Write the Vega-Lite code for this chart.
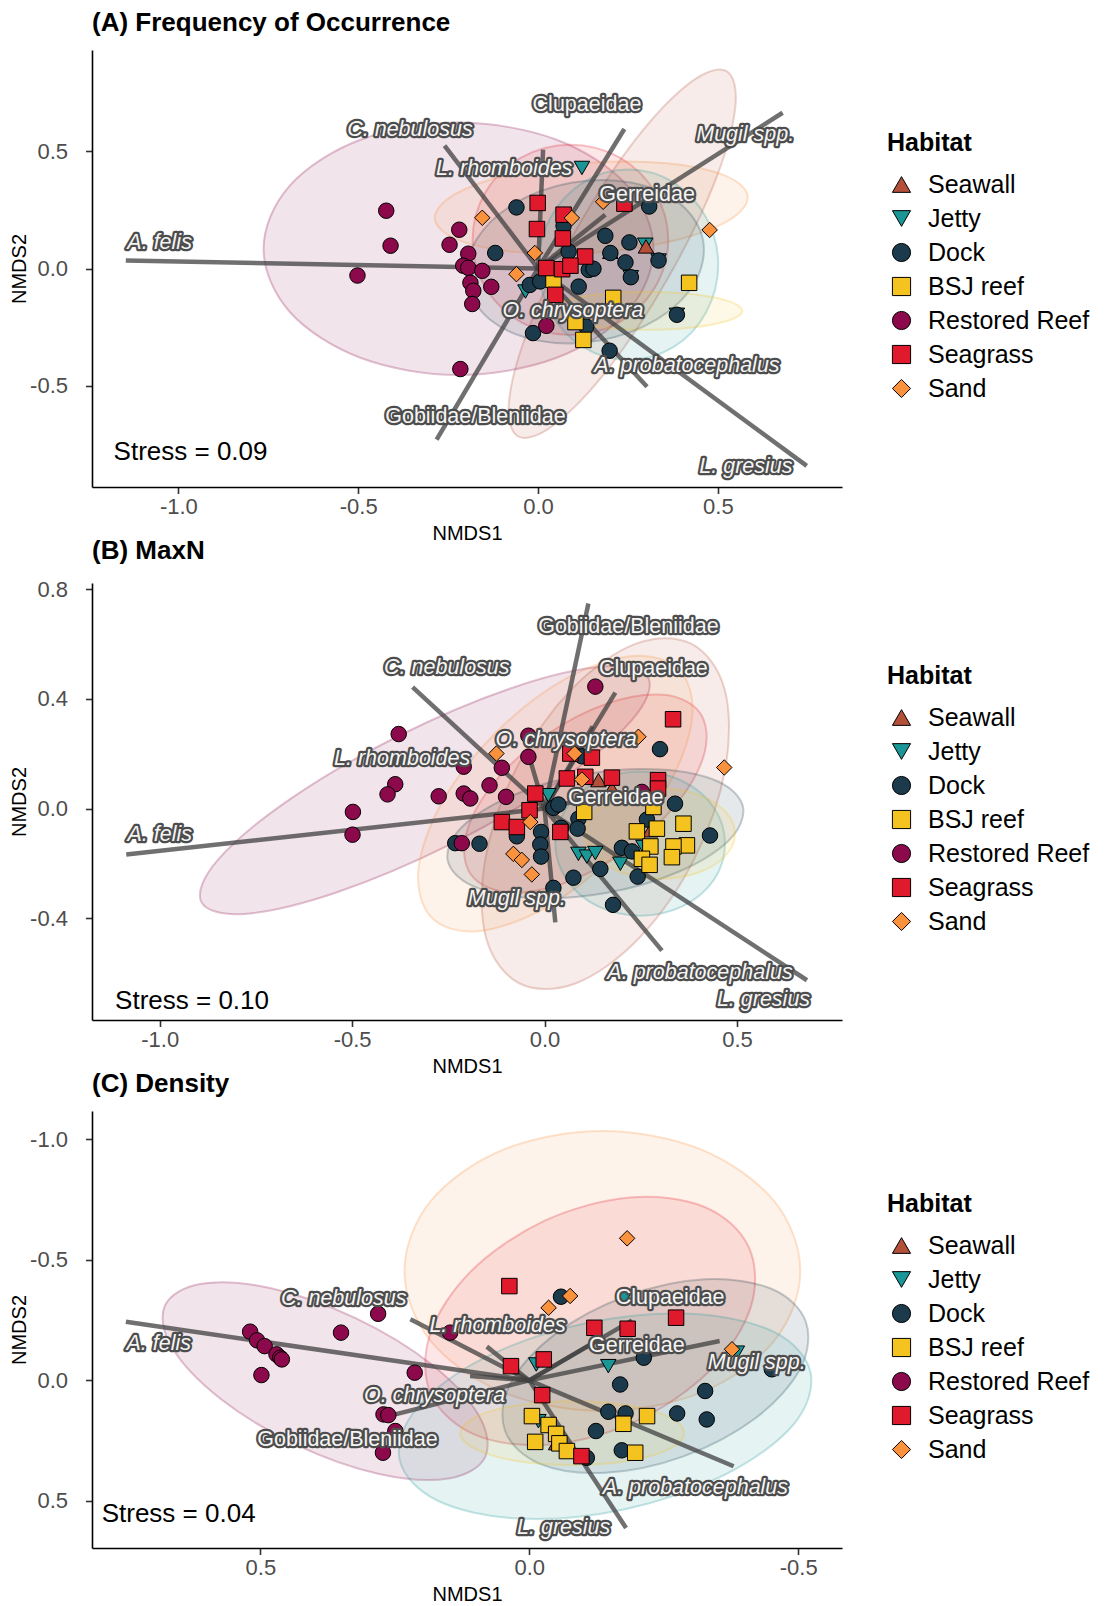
{
"$schema": "https://vega.github.io/schema/vega-lite/v6.json",
"background": "white",
"padding": {"top": 10, "left": 9, "right": 5, "bottom": 0},
"spacing": -6,
"config": {
 "view": {"stroke": null},
 "font": "Liberation Sans",
 "axis": {"grid": false, "domainColor": "black", "domainWidth": 1.6, "tickColor": "#333333", "tickWidth": 1.6, "tickSize": 6.5, "labelFontSize": 22, "labelColor": "#4D4D4D", "labelFont": "Liberation Sans", "titleFont": "Liberation Sans", "titleFontSize": 20, "titleFontWeight": "normal", "titleColor": "black"},
 "axisX": {"labelPadding": 3, "titlePadding": 6},
 "axisY": {"labelPadding": 18, "titlePadding": 0},
 "legend": {"titleFont": "Liberation Sans", "titleFontSize": 25, "titleFontWeight": "bold", "titleColor": "black", "labelFont": "Liberation Sans", "labelFontSize": 25, "labelColor": "black", "labelLimit": 400, "symbolSize": 330, "symbolStrokeColor": "black", "symbolStrokeWidth": 1, "rowPadding": 8, "titlePadding": 16, "labelOffset": 14, "symbolOffset": 2},
 "title": {"font": "Liberation Sans", "fontSize": 26, "fontWeight": "bold", "color": "black", "anchor": "start", "frame": "group", "offset": 14}
},
"datasets": {
"pts": [
{"panel":"A","habitat":"Jetty","x":0.122,"y":0.428},{"panel":"A","habitat":"Jetty","x":0.298,"y":0.101},{"panel":"A","habitat":"Jetty","x":0.335,"y":0.034},{"panel":"A","habitat":"Jetty","x":0.258,"y":-0.037},{"panel":"A","habitat":"Jetty","x":-0.035,"y":-0.098},{"panel":"A","habitat":"Jetty","x":0.386,"y":-0.197},
{"panel":"A","habitat":"Seawall","x":0.3,"y":0.094},{"panel":"A","habitat":"Seawall","x":0.201,"y":0.071},
{"panel":"A","habitat":"Dock","x":-0.06,"y":0.26},{"panel":"A","habitat":"Dock","x":0.309,"y":0.264},{"panel":"A","habitat":"Dock","x":0.071,"y":0.182},{"panel":"A","habitat":"Dock","x":0.187,"y":0.139},{"panel":"A","habitat":"Dock","x":0.254,"y":0.111},{"panel":"A","habitat":"Dock","x":-0.119,"y":0.066},{"panel":"A","habitat":"Dock","x":0.085,"y":0.072},{"panel":"A","habitat":"Dock","x":0.201,"y":0.066},{"panel":"A","habitat":"Dock","x":0.243,"y":0.026},{"panel":"A","habitat":"Dock","x":0.141,"y":-0.006},{"panel":"A","habitat":"Dock","x":0.154,"y":-0.001},{"panel":"A","habitat":"Dock","x":0.113,"y":-0.077},{"panel":"A","habitat":"Dock","x":-0.023,"y":-0.07},{"panel":"A","habitat":"Dock","x":0.006,"y":-0.055},{"panel":"A","habitat":"Dock","x":0.134,"y":-0.247},{"panel":"A","habitat":"Dock","x":0.199,"y":-0.35},{"panel":"A","habitat":"Dock","x":-0.014,"y":-0.275},{"panel":"A","habitat":"Dock","x":0.335,"y":0.034},{"panel":"A","habitat":"Dock","x":0.258,"y":-0.037},{"panel":"A","habitat":"Dock","x":0.386,"y":-0.197},
{"panel":"A","habitat":"BSJ reef","x":0.043,"y":-0.048},{"panel":"A","habitat":"BSJ reef","x":0.42,"y":-0.061},{"panel":"A","habitat":"BSJ reef","x":0.209,"y":-0.125},{"panel":"A","habitat":"BSJ reef","x":0.104,"y":-0.228},{"panel":"A","habitat":"BSJ reef","x":0.126,"y":-0.304},
{"panel":"A","habitat":"Seagrass","x":-0.001,"y":0.279},{"panel":"A","habitat":"Seagrass","x":0.071,"y":0.229},{"panel":"A","habitat":"Seagrass","x":-0.003,"y":0.168},{"panel":"A","habitat":"Seagrass","x":0.069,"y":0.128},{"panel":"A","habitat":"Seagrass","x":0.131,"y":0.051},{"panel":"A","habitat":"Seagrass","x":0.023,"y":0.002},{"panel":"A","habitat":"Seagrass","x":0.067,"y":-0.003},{"panel":"A","habitat":"Seagrass","x":0.09,"y":0.012},{"panel":"A","habitat":"Seagrass","x":0.24,"y":0.276},{"panel":"A","habitat":"Seagrass","x":0.048,"y":-0.112},
{"panel":"A","habitat":"Restored Reef","x":-0.422,"y":0.246},{"panel":"A","habitat":"Restored Reef","x":-0.41,"y":0.097},{"panel":"A","habitat":"Restored Reef","x":-0.502,"y":-0.03},{"panel":"A","habitat":"Restored Reef","x":-0.219,"y":0.165},{"panel":"A","habitat":"Restored Reef","x":-0.246,"y":0.101},{"panel":"A","habitat":"Restored Reef","x":-0.194,"y":0.063},{"panel":"A","habitat":"Restored Reef","x":-0.208,"y":0.012},{"panel":"A","habitat":"Restored Reef","x":-0.194,"y":0.003},{"panel":"A","habitat":"Restored Reef","x":-0.155,"y":-0.01},{"panel":"A","habitat":"Restored Reef","x":-0.188,"y":-0.061},{"panel":"A","habitat":"Restored Reef","x":-0.13,"y":-0.078},{"panel":"A","habitat":"Restored Reef","x":-0.18,"y":-0.095},{"panel":"A","habitat":"Restored Reef","x":-0.183,"y":-0.151},{"panel":"A","habitat":"Restored Reef","x":0.023,"y":-0.244},{"panel":"A","habitat":"Restored Reef","x":-0.216,"y":-0.428},
{"panel":"A","habitat":"Sand","x":-0.155,"y":0.216},{"panel":"A","habitat":"Sand","x":-0.009,"y":0.066},{"panel":"A","habitat":"Sand","x":-0.06,"y":-0.024},{"panel":"A","habitat":"Sand","x":0.477,"y":0.164},{"panel":"A","habitat":"Sand","x":0.094,"y":0.215},{"panel":"A","habitat":"Sand","x":0.181,"y":0.284},

{"panel":"B","habitat":"Jetty","x":0.01,"y":0.049},{"panel":"B","habitat":"Jetty","x":0.088,"y":-0.165},{"panel":"B","habitat":"Jetty","x":0.11,"y":-0.175},{"panel":"B","habitat":"Jetty","x":0.132,"y":-0.162},{"panel":"B","habitat":"Jetty","x":0.197,"y":-0.201},{"panel":"B","habitat":"Jetty","x":0.257,"y":-0.14},
{"panel":"B","habitat":"Seawall","x":0.14,"y":0.104},{"panel":"B","habitat":"Seawall","x":0.175,"y":0.073},{"panel":"B","habitat":"Seawall","x":0.275,"y":-0.079},
{"panel":"B","habitat":"Dock","x":0.3,"y":0.217},{"panel":"B","habitat":"Dock","x":0.097,"y":0.191},{"panel":"B","habitat":"Dock","x":0.023,"y":0.003},{"panel":"B","habitat":"Dock","x":0.036,"y":0.015},{"panel":"B","habitat":"Dock","x":0.088,"y":-0.037},{"panel":"B","habitat":"Dock","x":-0.009,"y":-0.085},{"panel":"B","habitat":"Dock","x":-0.011,"y":-0.131},{"panel":"B","habitat":"Dock","x":-0.009,"y":-0.175},{"panel":"B","habitat":"Dock","x":0.043,"y":-0.07},{"panel":"B","habitat":"Dock","x":0.086,"y":-0.073},{"panel":"B","habitat":"Dock","x":-0.072,"y":-0.101},{"panel":"B","habitat":"Dock","x":-0.232,"y":-0.126},{"panel":"B","habitat":"Dock","x":-0.169,"y":-0.128},{"panel":"B","habitat":"Dock","x":0.339,"y":0.018},{"panel":"B","habitat":"Dock","x":0.266,"y":-0.04},{"panel":"B","habitat":"Dock","x":0.43,"y":-0.098},{"panel":"B","habitat":"Dock","x":0.201,"y":-0.143},{"panel":"B","habitat":"Dock","x":0.227,"y":-0.156},{"panel":"B","habitat":"Dock","x":0.023,"y":-0.289},{"panel":"B","habitat":"Dock","x":0.075,"y":-0.252},{"panel":"B","habitat":"Dock","x":0.145,"y":-0.22},{"panel":"B","habitat":"Dock","x":0.242,"y":-0.248},{"panel":"B","habitat":"Dock","x":0.178,"y":-0.351},
{"panel":"B","habitat":"BSJ reef","x":0.24,"y":-0.083},{"panel":"B","habitat":"BSJ reef","x":0.292,"y":-0.073},{"panel":"B","habitat":"BSJ reef","x":0.361,"y":-0.055},{"panel":"B","habitat":"BSJ reef","x":0.275,"y":-0.138},{"panel":"B","habitat":"BSJ reef","x":0.37,"y":-0.134},{"panel":"B","habitat":"BSJ reef","x":0.335,"y":-0.138},{"panel":"B","habitat":"BSJ reef","x":0.331,"y":-0.177},{"panel":"B","habitat":"BSJ reef","x":0.253,"y":-0.183},{"panel":"B","habitat":"BSJ reef","x":0.273,"y":-0.205},{"panel":"B","habitat":"BSJ reef","x":0.103,"y":-0.012},{"panel":"B","habitat":"BSJ reef","x":0.283,"y":0.006},
{"panel":"B","habitat":"Seagrass","x":0.334,"y":0.326},{"panel":"B","habitat":"Seagrass","x":0.295,"y":0.104},{"panel":"B","habitat":"Seagrass","x":0.295,"y":0.073},{"panel":"B","habitat":"Seagrass","x":0.175,"y":0.113},{"panel":"B","habitat":"Seagrass","x":0.123,"y":0.186},{"panel":"B","habitat":"Seagrass","x":0.067,"y":0.201},{"panel":"B","habitat":"Seagrass","x":0.058,"y":0.11},{"panel":"B","habitat":"Seagrass","x":0.106,"y":0.116},{"panel":"B","habitat":"Seagrass","x":-0.024,"y":0.055},{"panel":"B","habitat":"Seagrass","x":-0.039,"y":-0.006},{"panel":"B","habitat":"Seagrass","x":-0.111,"y":-0.049},{"panel":"B","habitat":"Seagrass","x":-0.072,"y":-0.067},{"panel":"B","habitat":"Seagrass","x":0.041,"y":-0.085},
{"panel":"B","habitat":"Restored Reef","x":-0.379,"y":0.272},{"panel":"B","habitat":"Restored Reef","x":-0.388,"y":0.089},{"panel":"B","habitat":"Restored Reef","x":-0.408,"y":0.052},{"panel":"B","habitat":"Restored Reef","x":-0.498,"y":-0.012},{"panel":"B","habitat":"Restored Reef","x":-0.499,"y":-0.095},{"panel":"B","habitat":"Restored Reef","x":-0.275,"y":0.045},{"panel":"B","habitat":"Restored Reef","x":-0.21,"y":0.055},{"panel":"B","habitat":"Restored Reef","x":-0.193,"y":0.037},{"panel":"B","habitat":"Restored Reef","x":-0.21,"y":0.153},{"panel":"B","habitat":"Restored Reef","x":-0.215,"y":-0.126},{"panel":"B","habitat":"Restored Reef","x":0.132,"y":0.445},{"panel":"B","habitat":"Restored Reef","x":-0.042,"y":0.189},{"panel":"B","habitat":"Restored Reef","x":-0.111,"y":0.149},{"panel":"B","habitat":"Restored Reef","x":-0.143,"y":0.085},{"panel":"B","habitat":"Restored Reef","x":-0.1,"y":0.043},{"panel":"B","habitat":"Restored Reef","x":-0.042,"y":0.266},{"panel":"B","habitat":"Restored Reef","x":0.253,"y":0.061},
{"panel":"B","habitat":"Sand","x":-0.125,"y":0.201},{"panel":"B","habitat":"Sand","x":0.244,"y":0.262},{"panel":"B","habitat":"Sand","x":0.467,"y":0.15},{"panel":"B","habitat":"Sand","x":0.097,"y":0.106},{"panel":"B","habitat":"Sand","x":-0.037,"y":-0.049},{"panel":"B","habitat":"Sand","x":-0.081,"y":-0.165},{"panel":"B","habitat":"Sand","x":-0.059,"y":-0.187},{"panel":"B","habitat":"Sand","x":-0.033,"y":-0.24},{"panel":"B","habitat":"Sand","x":0.078,"y":0.201},

{"panel":"C","habitat":"Jetty","x":-0.013,"y":-0.066},{"panel":"C","habitat":"Jetty","x":-0.147,"y":-0.059},{"panel":"C","habitat":"Jetty","x":-0.177,"y":-0.343},{"panel":"C","habitat":"Jetty","x":-0.386,"y":-0.115},{"panel":"C","habitat":"Jetty","x":-0.017,"y":0.169},
{"panel":"C","habitat":"Seawall","x":-0.05,"y":0.26},
{"panel":"C","habitat":"Dock","x":-0.059,"y":-0.347},{"panel":"C","habitat":"Dock","x":-0.213,"y":-0.094},{"panel":"C","habitat":"Dock","x":-0.169,"y":0.017},{"panel":"C","habitat":"Dock","x":-0.327,"y":0.044},{"panel":"C","habitat":"Dock","x":-0.451,"y":-0.046},{"panel":"C","habitat":"Dock","x":-0.147,"y":0.13},{"panel":"C","habitat":"Dock","x":-0.179,"y":0.137},{"panel":"C","habitat":"Dock","x":-0.275,"y":0.137},{"panel":"C","habitat":"Dock","x":-0.33,"y":0.162},{"panel":"C","habitat":"Dock","x":-0.124,"y":0.21},{"panel":"C","habitat":"Dock","x":-0.172,"y":0.29},{"panel":"C","habitat":"Dock","x":-0.107,"y":0.321},
{"panel":"C","habitat":"BSJ reef","x":-0.005,"y":0.148},{"panel":"C","habitat":"BSJ reef","x":-0.036,"y":0.185},{"panel":"C","habitat":"BSJ reef","x":-0.05,"y":0.222},{"panel":"C","habitat":"BSJ reef","x":-0.056,"y":0.261},{"panel":"C","habitat":"BSJ reef","x":-0.07,"y":0.293},{"panel":"C","habitat":"BSJ reef","x":-0.011,"y":0.255},{"panel":"C","habitat":"BSJ reef","x":-0.175,"y":0.18},{"panel":"C","habitat":"BSJ reef","x":-0.219,"y":0.148},{"panel":"C","habitat":"BSJ reef","x":-0.197,"y":0.3},
{"panel":"C","habitat":"Seagrass","x":0.037,"y":-0.391},{"panel":"C","habitat":"Seagrass","x":-0.121,"y":-0.218},{"panel":"C","habitat":"Seagrass","x":-0.183,"y":-0.214},{"panel":"C","habitat":"Seagrass","x":-0.273,"y":-0.26},{"panel":"C","habitat":"Seagrass","x":0.034,"y":-0.059},{"panel":"C","habitat":"Seagrass","x":-0.027,"y":-0.087},{"panel":"C","habitat":"Seagrass","x":-0.024,"y":0.061},{"panel":"C","habitat":"Seagrass","x":-0.097,"y":0.314},
{"panel":"C","habitat":"Restored Reef","x":0.519,"y":-0.202},{"panel":"C","habitat":"Restored Reef","x":0.506,"y":-0.166},{"panel":"C","habitat":"Restored Reef","x":0.492,"y":-0.142},{"panel":"C","habitat":"Restored Reef","x":0.47,"y":-0.108},{"panel":"C","habitat":"Restored Reef","x":0.463,"y":-0.094},{"panel":"C","habitat":"Restored Reef","x":0.46,"y":-0.087},{"panel":"C","habitat":"Restored Reef","x":0.498,"y":-0.022},{"panel":"C","habitat":"Restored Reef","x":0.35,"y":-0.198},{"panel":"C","habitat":"Restored Reef","x":0.281,"y":-0.276},{"panel":"C","habitat":"Restored Reef","x":0.213,"y":-0.032},{"panel":"C","habitat":"Restored Reef","x":0.147,"y":-0.198},{"panel":"C","habitat":"Restored Reef","x":0.271,"y":0.141},{"panel":"C","habitat":"Restored Reef","x":0.262,"y":0.144},{"panel":"C","habitat":"Restored Reef","x":0.249,"y":0.21},{"panel":"C","habitat":"Restored Reef","x":0.272,"y":0.3},
{"panel":"C","habitat":"Sand","x":-0.182,"y":-0.589},{"panel":"C","habitat":"Sand","x":-0.076,"y":-0.35},{"panel":"C","habitat":"Sand","x":-0.036,"y":-0.301},{"panel":"C","habitat":"Sand","x":-0.377,"y":-0.129}
],
"ell": [
{"panel":"A","habitat":"Restored Reef","i":0,"x":0.321,"y":0.084},{"panel":"A","habitat":"Restored Reef","i":1,"x":0.248,"y":0.353},{"panel":"A","habitat":"Restored Reef","i":2,"x":0.05,"y":0.549},{"panel":"A","habitat":"Restored Reef","i":3,"x":-0.221,"y":0.621},{"panel":"A","habitat":"Restored Reef","i":4,"x":-0.492,"y":0.549},{"panel":"A","habitat":"Restored Reef","i":5,"x":-0.69,"y":0.353},{"panel":"A","habitat":"Restored Reef","i":6,"x":-0.763,"y":0.084},{"panel":"A","habitat":"Restored Reef","i":7,"x":-0.69,"y":-0.185},{"panel":"A","habitat":"Restored Reef","i":8,"x":-0.492,"y":-0.381},{"panel":"A","habitat":"Restored Reef","i":9,"x":-0.221,"y":-0.453},{"panel":"A","habitat":"Restored Reef","i":10,"x":0.05,"y":-0.381},{"panel":"A","habitat":"Restored Reef","i":11,"x":0.248,"y":-0.185},
{"panel":"A","habitat":"Seagrass","i":0,"x":0.362,"y":0.122},{"panel":"A","habitat":"Seagrass","i":1,"x":0.325,"y":0.325},{"panel":"A","habitat":"Seagrass","i":2,"x":0.226,"y":0.473},{"panel":"A","habitat":"Seagrass","i":3,"x":0.09,"y":0.527},{"panel":"A","habitat":"Seagrass","i":4,"x":-0.046,"y":0.473},{"panel":"A","habitat":"Seagrass","i":5,"x":-0.146,"y":0.325},{"panel":"A","habitat":"Seagrass","i":6,"x":-0.182,"y":0.122},{"panel":"A","habitat":"Seagrass","i":7,"x":-0.146,"y":-0.081},{"panel":"A","habitat":"Seagrass","i":8,"x":-0.046,"y":-0.229},{"panel":"A","habitat":"Seagrass","i":9,"x":0.09,"y":-0.283},{"panel":"A","habitat":"Seagrass","i":10,"x":0.226,"y":-0.229},{"panel":"A","habitat":"Seagrass","i":11,"x":0.325,"y":-0.081},
{"panel":"A","habitat":"Sand","i":0,"x":0.583,"y":0.306},{"panel":"A","habitat":"Sand","i":1,"x":0.529,"y":0.204},{"panel":"A","habitat":"Sand","i":2,"x":0.373,"y":0.117},{"panel":"A","habitat":"Sand","i":3,"x":0.157,"y":0.068},{"panel":"A","habitat":"Sand","i":4,"x":-0.062,"y":0.07},{"panel":"A","habitat":"Sand","i":5,"x":-0.224,"y":0.123},{"panel":"A","habitat":"Sand","i":6,"x":-0.287,"y":0.212},{"panel":"A","habitat":"Sand","i":7,"x":-0.233,"y":0.314},{"panel":"A","habitat":"Sand","i":8,"x":-0.077,"y":0.401},{"panel":"A","habitat":"Sand","i":9,"x":0.139,"y":0.45},{"panel":"A","habitat":"Sand","i":10,"x":0.358,"y":0.448},{"panel":"A","habitat":"Sand","i":11,"x":0.52,"y":0.395},
{"panel":"A","habitat":"Seawall","i":0,"x":0.524,"y":0.84},{"panel":"A","habitat":"Seawall","i":1,"x":0.548,"y":0.681},{"panel":"A","habitat":"Seawall","i":2,"x":0.488,"y":0.356},{"panel":"A","habitat":"Seawall","i":3,"x":0.359,"y":-0.047},{"panel":"A","habitat":"Seawall","i":4,"x":0.198,"y":-0.421},{"panel":"A","habitat":"Seawall","i":5,"x":0.045,"y":-0.665},{"panel":"A","habitat":"Seawall","i":6,"x":-0.056,"y":-0.714},{"panel":"A","habitat":"Seawall","i":7,"x":-0.08,"y":-0.555},{"panel":"A","habitat":"Seawall","i":8,"x":-0.02,"y":-0.23},{"panel":"A","habitat":"Seawall","i":9,"x":0.109,"y":0.173},{"panel":"A","habitat":"Seawall","i":10,"x":0.27,"y":0.547},{"panel":"A","habitat":"Seawall","i":11,"x":0.423,"y":0.791},
{"panel":"A","habitat":"Dock","i":0,"x":0.459,"y":0.118},{"panel":"A","habitat":"Dock","i":1,"x":0.435,"y":-0.062},{"panel":"A","habitat":"Dock","i":2,"x":0.329,"y":-0.218},{"panel":"A","habitat":"Dock","i":3,"x":0.17,"y":-0.307},{"panel":"A","habitat":"Dock","i":4,"x":0.0,"y":-0.307},{"panel":"A","habitat":"Dock","i":5,"x":-0.134,"y":-0.217},{"panel":"A","habitat":"Dock","i":6,"x":-0.197,"y":-0.061},{"panel":"A","habitat":"Dock","i":7,"x":-0.173,"y":0.119},{"panel":"A","habitat":"Dock","i":8,"x":-0.067,"y":0.275},{"panel":"A","habitat":"Dock","i":9,"x":0.092,"y":0.365},{"panel":"A","habitat":"Dock","i":10,"x":0.262,"y":0.365},{"panel":"A","habitat":"Dock","i":11,"x":0.396,"y":0.274},
{"panel":"A","habitat":"Jetty","i":0,"x":0.501,"y":0.016},{"panel":"A","habitat":"Jetty","i":1,"x":0.467,"y":0.218},{"panel":"A","habitat":"Jetty","i":2,"x":0.376,"y":0.367},{"panel":"A","habitat":"Jetty","i":3,"x":0.251,"y":0.421},{"panel":"A","habitat":"Jetty","i":4,"x":0.126,"y":0.367},{"panel":"A","habitat":"Jetty","i":5,"x":0.035,"y":0.218},{"panel":"A","habitat":"Jetty","i":6,"x":0.001,"y":0.016},{"panel":"A","habitat":"Jetty","i":7,"x":0.035,"y":-0.187},{"panel":"A","habitat":"Jetty","i":8,"x":0.126,"y":-0.335},{"panel":"A","habitat":"Jetty","i":9,"x":0.251,"y":-0.389},{"panel":"A","habitat":"Jetty","i":10,"x":0.376,"y":-0.335},{"panel":"A","habitat":"Jetty","i":11,"x":0.467,"y":-0.187},
{"panel":"A","habitat":"BSJ reef","i":0,"x":0.568,"y":-0.18},{"panel":"A","habitat":"BSJ reef","i":1,"x":0.532,"y":-0.14},{"panel":"A","habitat":"BSJ reef","i":2,"x":0.434,"y":-0.11},{"panel":"A","habitat":"BSJ reef","i":3,"x":0.301,"y":-0.099},{"panel":"A","habitat":"BSJ reef","i":4,"x":0.168,"y":-0.11},{"panel":"A","habitat":"BSJ reef","i":5,"x":0.07,"y":-0.14},{"panel":"A","habitat":"BSJ reef","i":6,"x":0.034,"y":-0.18},{"panel":"A","habitat":"BSJ reef","i":7,"x":0.07,"y":-0.22},{"panel":"A","habitat":"BSJ reef","i":8,"x":0.168,"y":-0.25},{"panel":"A","habitat":"BSJ reef","i":9,"x":0.301,"y":-0.261},{"panel":"A","habitat":"BSJ reef","i":10,"x":0.434,"y":-0.25},{"panel":"A","habitat":"BSJ reef","i":11,"x":0.532,"y":-0.22},

{"panel":"B","habitat":"Restored Reef","i":0,"x":0.27,"y":0.476},{"panel":"B","habitat":"Restored Reef","i":1,"x":0.227,"y":0.323},{"panel":"B","habitat":"Restored Reef","i":2,"x":0.04,"y":0.102},{"panel":"B","habitat":"Restored Reef","i":3,"x":-0.241,"y":-0.128},{"panel":"B","habitat":"Restored Reef","i":4,"x":-0.541,"y":-0.306},{"panel":"B","habitat":"Restored Reef","i":5,"x":-0.78,"y":-0.384},{"panel":"B","habitat":"Restored Reef","i":6,"x":-0.892,"y":-0.34},{"panel":"B","habitat":"Restored Reef","i":7,"x":-0.849,"y":-0.187},{"panel":"B","habitat":"Restored Reef","i":8,"x":-0.662,"y":0.034},{"panel":"B","habitat":"Restored Reef","i":9,"x":-0.381,"y":0.264},{"panel":"B","habitat":"Restored Reef","i":10,"x":-0.081,"y":0.442},{"panel":"B","habitat":"Restored Reef","i":11,"x":0.158,"y":0.519},
{"panel":"B","habitat":"Seagrass","i":0,"x":0.404,"y":0.349},{"panel":"B","habitat":"Seagrass","i":1,"x":0.416,"y":0.205},{"panel":"B","habitat":"Seagrass","i":2,"x":0.345,"y":0.021},{"panel":"B","habitat":"Seagrass","i":3,"x":0.21,"y":-0.155},{"panel":"B","habitat":"Seagrass","i":4,"x":0.047,"y":-0.274},{"panel":"B","habitat":"Seagrass","i":5,"x":-0.1,"y":-0.305},{"panel":"B","habitat":"Seagrass","i":6,"x":-0.192,"y":-0.239},{"panel":"B","habitat":"Seagrass","i":7,"x":-0.204,"y":-0.095},{"panel":"B","habitat":"Seagrass","i":8,"x":-0.134,"y":0.089},{"panel":"B","habitat":"Seagrass","i":9,"x":0.001,"y":0.265},{"panel":"B","habitat":"Seagrass","i":10,"x":0.164,"y":0.384},{"panel":"B","habitat":"Seagrass","i":11,"x":0.311,"y":0.415},
{"panel":"B","habitat":"Seawall","i":0,"x":0.382,"y":0.601},{"panel":"B","habitat":"Seawall","i":1,"x":0.468,"y":0.435},{"panel":"B","habitat":"Seawall","i":2,"x":0.47,"y":0.148},{"panel":"B","habitat":"Seawall","i":3,"x":0.389,"y":-0.184},{"panel":"B","habitat":"Seawall","i":4,"x":0.246,"y":-0.472},{"panel":"B","habitat":"Seawall","i":5,"x":0.08,"y":-0.638},{"panel":"B","habitat":"Seawall","i":6,"x":-0.066,"y":-0.637},{"panel":"B","habitat":"Seawall","i":7,"x":-0.152,"y":-0.471},{"panel":"B","habitat":"Seawall","i":8,"x":-0.154,"y":-0.184},{"panel":"B","habitat":"Seawall","i":9,"x":-0.073,"y":0.148},{"panel":"B","habitat":"Seawall","i":10,"x":0.07,"y":0.435},{"panel":"B","habitat":"Seawall","i":11,"x":0.236,"y":0.601},
{"panel":"B","habitat":"Sand","i":0,"x":0.349,"y":0.507},{"panel":"B","habitat":"Sand","i":1,"x":0.384,"y":0.337},{"panel":"B","habitat":"Sand","i":2,"x":0.324,"y":0.091},{"panel":"B","habitat":"Sand","i":3,"x":0.184,"y":-0.165},{"panel":"B","habitat":"Sand","i":4,"x":0.002,"y":-0.362},{"panel":"B","habitat":"Sand","i":5,"x":-0.173,"y":-0.447},{"panel":"B","habitat":"Sand","i":6,"x":-0.293,"y":-0.398},{"panel":"B","habitat":"Sand","i":7,"x":-0.328,"y":-0.227},{"panel":"B","habitat":"Sand","i":8,"x":-0.268,"y":0.019},{"panel":"B","habitat":"Sand","i":9,"x":-0.128,"y":0.275},{"panel":"B","habitat":"Sand","i":10,"x":0.053,"y":0.472},{"panel":"B","habitat":"Sand","i":11,"x":0.228,"y":0.557},
{"panel":"B","habitat":"Dock","i":0,"x":0.516,"y":0.004},{"panel":"B","habitat":"Dock","i":1,"x":0.478,"y":-0.117},{"panel":"B","habitat":"Dock","i":2,"x":0.347,"y":-0.231},{"panel":"B","habitat":"Dock","i":3,"x":0.159,"y":-0.308},{"panel":"B","habitat":"Dock","i":4,"x":-0.037,"y":-0.326},{"panel":"B","habitat":"Dock","i":5,"x":-0.187,"y":-0.282},{"panel":"B","habitat":"Dock","i":6,"x":-0.252,"y":-0.187},{"panel":"B","habitat":"Dock","i":7,"x":-0.214,"y":-0.066},{"panel":"B","habitat":"Dock","i":8,"x":-0.083,"y":0.048},{"panel":"B","habitat":"Dock","i":9,"x":0.105,"y":0.125},{"panel":"B","habitat":"Dock","i":10,"x":0.3,"y":0.143},{"panel":"B","habitat":"Dock","i":11,"x":0.451,"y":0.099},
{"panel":"B","habitat":"Jetty","i":0,"x":0.469,"y":-0.128},{"panel":"B","habitat":"Jetty","i":1,"x":0.44,"y":0.004},{"panel":"B","habitat":"Jetty","i":2,"x":0.359,"y":0.1},{"panel":"B","habitat":"Jetty","i":3,"x":0.249,"y":0.135},{"panel":"B","habitat":"Jetty","i":4,"x":0.138,"y":0.1},{"panel":"B","habitat":"Jetty","i":5,"x":0.058,"y":0.004},{"panel":"B","habitat":"Jetty","i":6,"x":0.028,"y":-0.128},{"panel":"B","habitat":"Jetty","i":7,"x":0.058,"y":-0.26},{"panel":"B","habitat":"Jetty","i":8,"x":0.138,"y":-0.356},{"panel":"B","habitat":"Jetty","i":9,"x":0.249,"y":-0.391},{"panel":"B","habitat":"Jetty","i":10,"x":0.359,"y":-0.356},{"panel":"B","habitat":"Jetty","i":11,"x":0.44,"y":-0.26},
{"panel":"B","habitat":"BSJ reef","i":0,"x":0.495,"y":-0.092},{"panel":"B","habitat":"BSJ reef","i":1,"x":0.469,"y":-0.009},{"panel":"B","habitat":"BSJ reef","i":2,"x":0.398,"y":0.051},{"panel":"B","habitat":"BSJ reef","i":3,"x":0.301,"y":0.073},{"panel":"B","habitat":"BSJ reef","i":4,"x":0.203,"y":0.051},{"panel":"B","habitat":"BSJ reef","i":5,"x":0.132,"y":-0.009},{"panel":"B","habitat":"BSJ reef","i":6,"x":0.106,"y":-0.092},{"panel":"B","habitat":"BSJ reef","i":7,"x":0.132,"y":-0.174},{"panel":"B","habitat":"BSJ reef","i":8,"x":0.203,"y":-0.234},{"panel":"B","habitat":"BSJ reef","i":9,"x":0.301,"y":-0.256},{"panel":"B","habitat":"BSJ reef","i":10,"x":0.398,"y":-0.234},{"panel":"B","habitat":"BSJ reef","i":11,"x":0.469,"y":-0.174},

{"panel":"C","habitat":"Restored Reef","i":0,"x":0.082,"y":0.318},{"panel":"C","habitat":"Restored Reef","i":1,"x":0.15,"y":0.407},{"panel":"C","habitat":"Restored Reef","i":2,"x":0.279,"y":0.388},{"panel":"C","habitat":"Restored Reef","i":3,"x":0.435,"y":0.265},{"panel":"C","habitat":"Restored Reef","i":4,"x":0.576,"y":0.073},{"panel":"C","habitat":"Restored Reef","i":5,"x":0.665,"y":-0.139},{"panel":"C","habitat":"Restored Reef","i":6,"x":0.677,"y":-0.312},{"panel":"C","habitat":"Restored Reef","i":7,"x":0.609,"y":-0.401},{"panel":"C","habitat":"Restored Reef","i":8,"x":0.48,"y":-0.382},{"panel":"C","habitat":"Restored Reef","i":9,"x":0.324,"y":-0.259},{"panel":"C","habitat":"Restored Reef","i":10,"x":0.182,"y":-0.067},{"panel":"C","habitat":"Restored Reef","i":11,"x":0.094,"y":0.145},
{"panel":"C","habitat":"Sand","i":0,"x":-0.504,"y":-0.454},{"panel":"C","habitat":"Sand","i":1,"x":-0.455,"y":-0.163},{"panel":"C","habitat":"Sand","i":2,"x":-0.32,"y":0.05},{"panel":"C","habitat":"Sand","i":3,"x":-0.136,"y":0.127},{"panel":"C","habitat":"Sand","i":4,"x":0.048,"y":0.05},{"panel":"C","habitat":"Sand","i":5,"x":0.183,"y":-0.163},{"panel":"C","habitat":"Sand","i":6,"x":0.232,"y":-0.454},{"panel":"C","habitat":"Sand","i":7,"x":0.183,"y":-0.744},{"panel":"C","habitat":"Sand","i":8,"x":0.048,"y":-0.957},{"panel":"C","habitat":"Sand","i":9,"x":-0.136,"y":-1.034},{"panel":"C","habitat":"Sand","i":10,"x":-0.32,"y":-0.957},{"panel":"C","habitat":"Sand","i":11,"x":-0.455,"y":-0.744},
{"panel":"C","habitat":"Seagrass","i":0,"x":-0.408,"y":-0.553},{"panel":"C","habitat":"Seagrass","i":1,"x":-0.412,"y":-0.305},{"panel":"C","habitat":"Seagrass","i":2,"x":-0.336,"y":-0.041},{"panel":"C","habitat":"Seagrass","i":3,"x":-0.2,"y":0.168},{"panel":"C","habitat":"Seagrass","i":4,"x":-0.041,"y":0.266},{"panel":"C","habitat":"Seagrass","i":5,"x":0.099,"y":0.227},{"panel":"C","habitat":"Seagrass","i":6,"x":0.182,"y":0.061},{"panel":"C","habitat":"Seagrass","i":7,"x":0.185,"y":-0.187},{"panel":"C","habitat":"Seagrass","i":8,"x":0.109,"y":-0.451},{"panel":"C","habitat":"Seagrass","i":9,"x":-0.027,"y":-0.66},{"panel":"C","habitat":"Seagrass","i":10,"x":-0.186,"y":-0.758},{"panel":"C","habitat":"Seagrass","i":11,"x":-0.326,"y":-0.719},
{"panel":"C","habitat":"Dock","i":0,"x":-0.514,"y":-0.245},{"panel":"C","habitat":"Dock","i":1,"x":-0.504,"y":-0.049},{"panel":"C","habitat":"Dock","i":2,"x":-0.421,"y":0.156},{"panel":"C","habitat":"Dock","i":3,"x":-0.288,"y":0.314},{"panel":"C","habitat":"Dock","i":4,"x":-0.141,"y":0.383},{"panel":"C","habitat":"Dock","i":5,"x":-0.019,"y":0.345},{"panel":"C","habitat":"Dock","i":6,"x":0.045,"y":0.209},{"panel":"C","habitat":"Dock","i":7,"x":0.035,"y":0.013},{"panel":"C","habitat":"Dock","i":8,"x":-0.048,"y":-0.192},{"panel":"C","habitat":"Dock","i":9,"x":-0.18,"y":-0.349},{"panel":"C","habitat":"Dock","i":10,"x":-0.327,"y":-0.419},{"panel":"C","habitat":"Dock","i":11,"x":-0.45,"y":-0.38},
{"panel":"C","habitat":"Jetty","i":0,"x":-0.523,"y":-0.033},{"panel":"C","habitat":"Jetty","i":1,"x":-0.491,"y":0.184},{"panel":"C","habitat":"Jetty","i":2,"x":-0.364,"y":0.391},{"panel":"C","habitat":"Jetty","i":3,"x":-0.178,"y":0.534},{"panel":"C","habitat":"Jetty","i":4,"x":0.018,"y":0.573},{"panel":"C","habitat":"Jetty","i":5,"x":0.171,"y":0.498},{"panel":"C","habitat":"Jetty","i":6,"x":0.241,"y":0.329},{"panel":"C","habitat":"Jetty","i":7,"x":0.208,"y":0.112},{"panel":"C","habitat":"Jetty","i":8,"x":0.082,"y":-0.095},{"panel":"C","habitat":"Jetty","i":9,"x":-0.105,"y":-0.237},{"panel":"C","habitat":"Jetty","i":10,"x":-0.3,"y":-0.276},{"panel":"C","habitat":"Jetty","i":11,"x":-0.454,"y":-0.202},
{"panel":"C","habitat":"BSJ reef","i":0,"x":-0.288,"y":0.219},{"panel":"C","habitat":"BSJ reef","i":1,"x":-0.26,"y":0.285},{"panel":"C","habitat":"BSJ reef","i":2,"x":-0.184,"y":0.334},{"panel":"C","habitat":"BSJ reef","i":3,"x":-0.08,"y":0.351},{"panel":"C","habitat":"BSJ reef","i":4,"x":0.024,"y":0.334},{"panel":"C","habitat":"BSJ reef","i":5,"x":0.1,"y":0.285},{"panel":"C","habitat":"BSJ reef","i":6,"x":0.128,"y":0.219},{"panel":"C","habitat":"BSJ reef","i":7,"x":0.1,"y":0.152},{"panel":"C","habitat":"BSJ reef","i":8,"x":0.024,"y":0.104},{"panel":"C","habitat":"BSJ reef","i":9,"x":-0.08,"y":0.086},{"panel":"C","habitat":"BSJ reef","i":10,"x":-0.184,"y":0.104},{"panel":"C","habitat":"BSJ reef","i":11,"x":-0.26,"y":0.152}
],
"vec": [
{"panel":"A","taxon":"A. felis","x":-1.146,"y":0.034},{"panel":"A","taxon":"C. nebulosus","x":-0.26,"y":0.523},{"panel":"A","taxon":"L. rhomboides","x":0.014,"y":0.506},{"panel":"A","taxon":"Clupaeidae","x":0.24,"y":0.594},{"panel":"A","taxon":"Mugil spp.","x":0.68,"y":0.663},{"panel":"A","taxon":"Gerreidae","x":0.187,"y":0.229},{"panel":"A","taxon":"O. chrysoptera","x":0.06,"y":-0.12},{"panel":"A","taxon":"A. probatocephalus","x":0.303,"y":-0.503},{"panel":"A","taxon":"L. gresius","x":0.747,"y":-0.84},{"panel":"A","taxon":"Gobiidae/Bleniidae","x":-0.282,"y":-0.728},
{"panel":"B","taxon":"A. felis","x":-1.087,"y":-0.167},{"panel":"B","taxon":"C. nebulosus","x":-0.343,"y":0.443},{"panel":"B","taxon":"L. rhomboides","x":-0.04,"y":0.19},{"panel":"B","taxon":"Gobiidae/Bleniidae","x":0.114,"y":0.748},{"panel":"B","taxon":"Clupaeidae","x":0.184,"y":0.423},{"panel":"B","taxon":"O. chrysoptera","x":0.125,"y":0.3},{"panel":"B","taxon":"Gerreidae","x":0.15,"y":0.05},{"panel":"B","taxon":"Mugil spp.","x":0.028,"y":-0.415},{"panel":"B","taxon":"A. probatocephalus","x":0.305,"y":-0.518},{"panel":"B","taxon":"L. gresius","x":0.682,"y":-0.626},
{"panel":"C","taxon":"A. felis","x":0.75,"y":-0.243},{"panel":"C","taxon":"C. nebulosus","x":0.221,"y":-0.253},{"panel":"C","taxon":"L. rhomboides","x":0.079,"y":-0.14},{"panel":"C","taxon":"O. chrysoptera","x":0.249,"y":0.141},{"panel":"C","taxon":"Gobiidae/Bleniidae","x":0.11,"y":-0.018},{"panel":"C","taxon":"Clupaeidae","x":-0.191,"y":-0.249},{"panel":"C","taxon":"Gerreidae","x":-0.13,"y":-0.17},{"panel":"C","taxon":"Mugil spp.","x":-0.354,"y":-0.163},{"panel":"C","taxon":"A. probatocephalus","x":-0.38,"y":0.356},{"panel":"C","taxon":"L. gresius","x":-0.18,"y":0.612}
],
"lab": [
{"panel":"A","taxon":"A. felis","rank":"species","x":-1.052,"y":0.108},{"panel":"A","taxon":"C. nebulosus","rank":"species","x":-0.356,"y":0.589},{"panel":"A","taxon":"L. rhomboides","rank":"species","x":-0.094,"y":0.425},{"panel":"A","taxon":"Clupaeidae","rank":"family","x":0.136,"y":0.695},{"panel":"A","taxon":"Mugil spp.","rank":"genus","x":0.576,"y":0.57},{"panel":"A","taxon":"Gerreidae","rank":"family","x":0.303,"y":0.311},{"panel":"A","taxon":"O. chrysoptera","rank":"species","x":0.097,"y":-0.183},{"panel":"A","taxon":"A. probatocephalus","rank":"species","x":0.414,"y":-0.414},{"panel":"A","taxon":"L. gresius","rank":"species","x":0.578,"y":-0.844},{"panel":"A","taxon":"Gobiidae/Bleniidae","rank":"family","x":-0.174,"y":-0.631},
{"panel":"B","taxon":"A. felis","rank":"species","x":-1.0,"y":-0.095},{"panel":"B","taxon":"C. nebulosus","rank":"species","x":-0.254,"y":0.512},{"panel":"B","taxon":"L. rhomboides","rank":"species","x":-0.37,"y":0.18},{"panel":"B","taxon":"Gobiidae/Bleniidae","rank":"family","x":0.218,"y":0.661},{"panel":"B","taxon":"Clupaeidae","rank":"family","x":0.283,"y":0.509},{"panel":"B","taxon":"O. chrysoptera","rank":"species","x":0.056,"y":0.25},{"panel":"B","taxon":"Gerreidae","rank":"family","x":0.185,"y":0.037},{"panel":"B","taxon":"Mugil spp.","rank":"genus","x":-0.072,"y":-0.329},{"panel":"B","taxon":"A. probatocephalus","rank":"species","x":0.404,"y":-0.598},{"panel":"B","taxon":"L. gresius","rank":"species","x":0.569,"y":-0.698},
{"panel":"C","taxon":"A. felis","rank":"species","x":0.689,"y":-0.152},{"panel":"C","taxon":"C. nebulosus","rank":"species","x":0.345,"y":-0.336},{"panel":"C","taxon":"L. rhomboides","rank":"species","x":0.059,"y":-0.225},{"panel":"C","taxon":"O. chrysoptera","rank":"species","x":0.176,"y":0.065},{"panel":"C","taxon":"Gobiidae/Bleniidae","rank":"family","x":0.338,"y":0.249},{"panel":"C","taxon":"Clupaeidae","rank":"family","x":-0.262,"y":-0.343},{"panel":"C","taxon":"Gerreidae","rank":"family","x":-0.2,"y":-0.142},{"panel":"C","taxon":"Mugil spp.","rank":"genus","x":-0.423,"y":-0.073},{"panel":"C","taxon":"A. probatocephalus","rank":"species","x":-0.309,"y":0.446},{"panel":"C","taxon":"L. gresius","rank":"species","x":-0.064,"y":0.612}
],
"stress": [
{"panel":"A","label":"Stress = 0.09","x":-1.18,"y":-0.78},
{"panel":"B","label":"Stress = 0.10","x":-1.116,"y":-0.70},
{"panel":"C","label":"Stress = 0.04","x":0.795,"y":0.556}
]
},
"resolve": {"scale": {"x": "independent", "y": "independent", "color": "independent", "shape": "independent", "fill": "independent", "stroke": "independent"}, "legend": {"color": "independent", "shape": "independent"}},
"vconcat": [
{
 "width": 750, "height": 437,
 "title": {"text": "(A) Frequency of Occurrence"},
 "encoding": {
  "x": {"field": "x", "type": "quantitative", "title": "NMDS1", "scale": {"domain": [-1.24, 0.845], "nice": false, "zero": false}, "axis": {"values": [-1, -0.5, 0, 0.5], "labelExpr": "replace(format(datum.value, '.1f'), '−', '-')"}},
  "y": {"field": "y", "type": "quantitative", "title": "NMDS2", "scale": {"domain": [-0.93, 0.93], "nice": false, "zero": false}, "axis": {"values": [-0.5, 0, 0.5], "labelExpr": "replace(format(datum.value, '.1f'), '−', '-')"}}
 },
 "layer": [
  {"data": {"name": "ell"}, "transform": [{"filter": "datum.panel == 'A'"}], "mark": {"type": "line", "interpolate": "cardinal-closed", "fillOpacity": 0.11, "strokeOpacity": 0.25, "strokeWidth": 2},
   "encoding": {"fill": {"field": "habitat", "type": "nominal", "legend": null, "scale": {"domain": ["BSJ reef","Dock","Jetty","Restored Reef","Sand","Seagrass","Seawall"], "range": ["#F5C320","#1B3A4B","#1A9696","#8C0A4B","#FA913C","#E1192D","#B4503A"]}},
    "stroke": {"field": "habitat", "type": "nominal", "legend": null, "scale": {"domain": ["BSJ reef","Dock","Jetty","Restored Reef","Sand","Seagrass","Seawall"], "range": ["#F5C320","#1B3A4B","#1A9696","#8C0A4B","#FA913C","#E1192D","#B4503A"]}},
    "detail": {"field": "habitat"}, "order": {"field": "i", "type": "quantitative"}}},
  {"data": {"name": "vec"}, "transform": [{"filter": "datum.panel == 'A'"}], "mark": {"type": "rule", "color": "#404040", "opacity": 0.75, "strokeWidth": 4.5}, "encoding": {"x2": {"datum": 0}, "y2": {"datum": 0}}},
  {"data": {"name": "pts"}, "transform": [{"filter": "datum.panel == 'A'"}], "mark": {"type": "point", "filled": true, "stroke": "black", "strokeWidth": 1, "size": 240, "opacity": 1},
   "encoding": {"color": {"field": "habitat", "type": "nominal", "title": "Habitat", "scale": {"domain": ["Seawall","Jetty","Dock","BSJ reef","Restored Reef","Seagrass","Sand"], "range": ["#B4503A","#1A9696","#1B3A4B","#F5C320","#8C0A4B","#E1192D","#FA913C"]}, "legend": {"orient": "none", "legendX": 795, "legendY": 81}},
    "shape": {"field": "habitat", "type": "nominal", "title": "Habitat", "scale": {"domain": ["Seawall","Jetty","Dock","BSJ reef","Restored Reef","Seagrass","Sand"], "range": ["triangle-up","triangle-down","circle","square","circle","square","diamond"]}, "legend": {"orient": "none", "legendX": 795, "legendY": 81}}}},
  {"data": {"name": "lab"}, "transform": [{"filter": "datum.panel == 'A' && datum.rank != 'family'"}], "mark": {"type": "text", "fontSize": 21.5, "fontStyle": "italic", "fill": "#4D4D4D", "stroke": "#4D4D4D", "strokeWidth": 4.5, "strokeJoin": "round"}, "encoding": {"text": {"field": "taxon"}}},
  {"data": {"name": "lab"}, "transform": [{"filter": "datum.panel == 'A' && datum.rank == 'family'"}], "mark": {"type": "text", "fontSize": 21.5, "fill": "#4D4D4D", "stroke": "#4D4D4D", "strokeWidth": 4.5, "strokeJoin": "round"}, "encoding": {"text": {"field": "taxon"}}},
  {"data": {"name": "lab"}, "transform": [{"filter": "datum.panel == 'A' && datum.rank != 'family'"}], "mark": {"type": "text", "fontSize": 21.5, "fontStyle": "italic", "fill": "#F5F5F5"}, "encoding": {"text": {"field": "taxon"}}},
  {"data": {"name": "lab"}, "transform": [{"filter": "datum.panel == 'A' && datum.rank == 'family'"}], "mark": {"type": "text", "fontSize": 21.5, "fill": "#F5F5F5"}, "encoding": {"text": {"field": "taxon"}}},
  {"data": {"name": "stress"}, "transform": [{"filter": "datum.panel == 'A'"}], "mark": {"type": "text", "fontSize": 26, "align": "left", "baseline": "middle", "color": "black"}, "encoding": {"text": {"field": "label"}}}
 ]
},
{
 "width": 750, "height": 437,
 "title": {"text": "(B) MaxN"},
 "encoding": {
  "x": {"field": "x", "type": "quantitative", "title": "NMDS1", "scale": {"domain": [-1.176, 0.773], "nice": false, "zero": false}, "axis": {"values": [-1, -0.5, 0, 0.5], "labelExpr": "replace(format(datum.value, '.1f'), '−', '-')"}},
  "y": {"field": "y", "type": "quantitative", "title": "NMDS2", "scale": {"domain": [-0.771, 0.823], "nice": false, "zero": false}, "axis": {"values": [-0.4, 0, 0.4, 0.8], "labelExpr": "replace(format(datum.value, '.1f'), '−', '-')"}}
 },
 "layer": [
  {"data": {"name": "ell"}, "transform": [{"filter": "datum.panel == 'B'"}], "mark": {"type": "line", "interpolate": "cardinal-closed", "fillOpacity": 0.11, "strokeOpacity": 0.25, "strokeWidth": 2},
   "encoding": {"fill": {"field": "habitat", "type": "nominal", "legend": null, "scale": {"domain": ["BSJ reef","Dock","Jetty","Restored Reef","Sand","Seagrass","Seawall"], "range": ["#F5C320","#1B3A4B","#1A9696","#8C0A4B","#FA913C","#E1192D","#B4503A"]}},
    "stroke": {"field": "habitat", "type": "nominal", "legend": null, "scale": {"domain": ["BSJ reef","Dock","Jetty","Restored Reef","Sand","Seagrass","Seawall"], "range": ["#F5C320","#1B3A4B","#1A9696","#8C0A4B","#FA913C","#E1192D","#B4503A"]}},
    "detail": {"field": "habitat"}, "order": {"field": "i", "type": "quantitative"}}},
  {"data": {"name": "vec"}, "transform": [{"filter": "datum.panel == 'B'"}], "mark": {"type": "rule", "color": "#404040", "opacity": 0.75, "strokeWidth": 4.5}, "encoding": {"x2": {"datum": 0}, "y2": {"datum": 0}}},
  {"data": {"name": "pts"}, "transform": [{"filter": "datum.panel == 'B'"}], "mark": {"type": "point", "filled": true, "stroke": "black", "strokeWidth": 1, "size": 240, "opacity": 1},
   "encoding": {"color": {"field": "habitat", "type": "nominal", "title": "Habitat", "scale": {"domain": ["Seawall","Jetty","Dock","BSJ reef","Restored Reef","Seagrass","Sand"], "range": ["#B4503A","#1A9696","#1B3A4B","#F5C320","#8C0A4B","#E1192D","#FA913C"]}, "legend": {"orient": "none", "legendX": 795, "legendY": 81}},
    "shape": {"field": "habitat", "type": "nominal", "title": "Habitat", "scale": {"domain": ["Seawall","Jetty","Dock","BSJ reef","Restored Reef","Seagrass","Sand"], "range": ["triangle-up","triangle-down","circle","square","circle","square","diamond"]}, "legend": {"orient": "none", "legendX": 795, "legendY": 81}}}},
  {"data": {"name": "lab"}, "transform": [{"filter": "datum.panel == 'B' && datum.rank != 'family'"}], "mark": {"type": "text", "fontSize": 21.5, "fontStyle": "italic", "fill": "#4D4D4D", "stroke": "#4D4D4D", "strokeWidth": 4.5, "strokeJoin": "round"}, "encoding": {"text": {"field": "taxon"}}},
  {"data": {"name": "lab"}, "transform": [{"filter": "datum.panel == 'B' && datum.rank == 'family'"}], "mark": {"type": "text", "fontSize": 21.5, "fill": "#4D4D4D", "stroke": "#4D4D4D", "strokeWidth": 4.5, "strokeJoin": "round"}, "encoding": {"text": {"field": "taxon"}}},
  {"data": {"name": "lab"}, "transform": [{"filter": "datum.panel == 'B' && datum.rank != 'family'"}], "mark": {"type": "text", "fontSize": 21.5, "fontStyle": "italic", "fill": "#F5F5F5"}, "encoding": {"text": {"field": "taxon"}}},
  {"data": {"name": "lab"}, "transform": [{"filter": "datum.panel == 'B' && datum.rank == 'family'"}], "mark": {"type": "text", "fontSize": 21.5, "fill": "#F5F5F5"}, "encoding": {"text": {"field": "taxon"}}},
  {"data": {"name": "stress"}, "transform": [{"filter": "datum.panel == 'B'"}], "mark": {"type": "text", "fontSize": 26, "align": "left", "baseline": "middle", "color": "black"}, "encoding": {"text": {"field": "label"}}}
 ]
},
{
 "width": 750, "height": 437,
 "title": {"text": "(C) Density"},
 "encoding": {
  "x": {"field": "x", "type": "quantitative", "title": "NMDS1", "scale": {"domain": [-0.5815, 0.813], "nice": false, "zero": false, "reverse": true}, "axis": {"values": [0.5, 0, -0.5], "labelExpr": "replace(format(datum.value, '.1f'), '−', '-')"}},
  "y": {"field": "y", "type": "quantitative", "title": "NMDS2", "scale": {"domain": [-1.117, 0.695], "nice": false, "zero": false, "reverse": true}, "axis": {"values": [-1, -0.5, 0, 0.5], "labelExpr": "replace(format(datum.value, '.1f'), '−', '-')"}}
 },
 "layer": [
  {"data": {"name": "ell"}, "transform": [{"filter": "datum.panel == 'C'"}], "mark": {"type": "line", "interpolate": "cardinal-closed", "fillOpacity": 0.11, "strokeOpacity": 0.25, "strokeWidth": 2},
   "encoding": {"fill": {"field": "habitat", "type": "nominal", "legend": null, "scale": {"domain": ["BSJ reef","Dock","Jetty","Restored Reef","Sand","Seagrass","Seawall"], "range": ["#F5C320","#1B3A4B","#1A9696","#8C0A4B","#FA913C","#E1192D","#B4503A"]}},
    "stroke": {"field": "habitat", "type": "nominal", "legend": null, "scale": {"domain": ["BSJ reef","Dock","Jetty","Restored Reef","Sand","Seagrass","Seawall"], "range": ["#F5C320","#1B3A4B","#1A9696","#8C0A4B","#FA913C","#E1192D","#B4503A"]}},
    "detail": {"field": "habitat"}, "order": {"field": "i", "type": "quantitative"}}},
  {"data": {"name": "vec"}, "transform": [{"filter": "datum.panel == 'C'"}], "mark": {"type": "rule", "color": "#404040", "opacity": 0.75, "strokeWidth": 4.5}, "encoding": {"x2": {"datum": 0}, "y2": {"datum": 0}}},
  {"data": {"name": "pts"}, "transform": [{"filter": "datum.panel == 'C'"}], "mark": {"type": "point", "filled": true, "stroke": "black", "strokeWidth": 1, "size": 240, "opacity": 1},
   "encoding": {"color": {"field": "habitat", "type": "nominal", "title": "Habitat", "scale": {"domain": ["Seawall","Jetty","Dock","BSJ reef","Restored Reef","Seagrass","Sand"], "range": ["#B4503A","#1A9696","#1B3A4B","#F5C320","#8C0A4B","#E1192D","#FA913C"]}, "legend": {"orient": "none", "legendX": 795, "legendY": 81}},
    "shape": {"field": "habitat", "type": "nominal", "title": "Habitat", "scale": {"domain": ["Seawall","Jetty","Dock","BSJ reef","Restored Reef","Seagrass","Sand"], "range": ["triangle-up","triangle-down","circle","square","circle","square","diamond"]}, "legend": {"orient": "none", "legendX": 795, "legendY": 81}}}},
  {"data": {"name": "lab"}, "transform": [{"filter": "datum.panel == 'C' && datum.rank != 'family'"}], "mark": {"type": "text", "fontSize": 21.5, "fontStyle": "italic", "fill": "#4D4D4D", "stroke": "#4D4D4D", "strokeWidth": 4.5, "strokeJoin": "round"}, "encoding": {"text": {"field": "taxon"}}},
  {"data": {"name": "lab"}, "transform": [{"filter": "datum.panel == 'C' && datum.rank == 'family'"}], "mark": {"type": "text", "fontSize": 21.5, "fill": "#4D4D4D", "stroke": "#4D4D4D", "strokeWidth": 4.5, "strokeJoin": "round"}, "encoding": {"text": {"field": "taxon"}}},
  {"data": {"name": "lab"}, "transform": [{"filter": "datum.panel == 'C' && datum.rank != 'family'"}], "mark": {"type": "text", "fontSize": 21.5, "fontStyle": "italic", "fill": "#F5F5F5"}, "encoding": {"text": {"field": "taxon"}}},
  {"data": {"name": "lab"}, "transform": [{"filter": "datum.panel == 'C' && datum.rank == 'family'"}], "mark": {"type": "text", "fontSize": 21.5, "fill": "#F5F5F5"}, "encoding": {"text": {"field": "taxon"}}},
  {"data": {"name": "stress"}, "transform": [{"filter": "datum.panel == 'C'"}], "mark": {"type": "text", "fontSize": 26, "align": "left", "baseline": "middle", "color": "black"}, "encoding": {"text": {"field": "label"}}}
 ]
}
]
}
